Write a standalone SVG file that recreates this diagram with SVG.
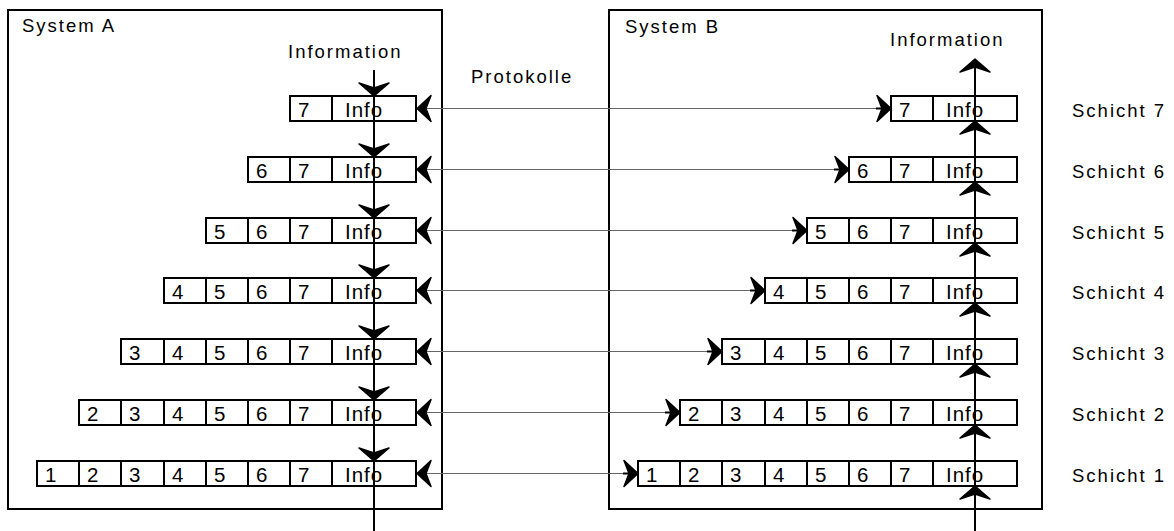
<svg xmlns="http://www.w3.org/2000/svg" xmlns:xlink="http://www.w3.org/1999/xlink" width="1174" height="531" viewBox="0 0 1174 531">
<style>
.frame{fill:none;stroke:#000;stroke-width:2}
.cell{fill:#fff;stroke:#000;stroke-width:2}
.lbl{font-family:"Liberation Sans",Arial,sans-serif;font-size:18.5px;letter-spacing:2px;fill:#000}
.ct{font-family:"Liberation Sans",Arial,sans-serif;font-size:20.5px;letter-spacing:1px;fill:#000}
.vline{stroke:#000;stroke-width:2;fill:none}
.proto{stroke:#666;stroke-width:1;fill:none}
.shaft{stroke:#000;stroke-width:2;fill:none}
.ah{fill:#000;stroke:#000;stroke-width:1.5;stroke-linejoin:round}
</style>
<defs>
<path id="ahV" class="ah" d="M0,0 L-15,-13 L0,-8 L15,-13 Z"/>
<path id="ahH" class="ah" d="M0,0 L14,-13 L9,0 L14,13 Z"/>
</defs>
<rect width="1174" height="531" fill="#fff"/>

<g id="systemA">
<rect class="frame" x="8" y="10" width="434" height="499"/>
<text class="lbl" x="22" y="32">System A</text>
<text class="lbl" x="288" y="58">Information</text>
</g>
<g id="systemB">
<rect class="frame" x="609" y="10" width="433" height="499"/>
<text class="lbl" x="625" y="33">System B</text>
<text class="lbl" x="890" y="46">Information</text>
</g>
<text id="protokolle" class="lbl" x="471" y="83">Protokolle</text>

<g id="connectors">
<line class="vline" x1="374" y1="70" x2="374" y2="531"/>
<line class="vline" x1="975" y1="60" x2="975" y2="531"/>
<line class="proto" x1="417" y1="108.5" x2="891" y2="108.5"/>
<line class="proto" x1="417" y1="169.5" x2="849" y2="169.5"/>
<line class="proto" x1="417" y1="230.5" x2="807" y2="230.5"/>
<line class="proto" x1="417" y1="290.5" x2="765" y2="290.5"/>
<line class="proto" x1="417" y1="351.5" x2="722" y2="351.5"/>
<line class="proto" x1="417" y1="412.5" x2="680" y2="412.5"/>
<line class="proto" x1="417" y1="473.5" x2="638" y2="473.5"/>
<line class="shaft" x1="876" y1="108.5" x2="891" y2="108.5"/>
<line class="shaft" x1="834" y1="169.5" x2="849" y2="169.5"/>
<line class="shaft" x1="792" y1="230.5" x2="807" y2="230.5"/>
<line class="shaft" x1="750" y1="290.5" x2="765" y2="290.5"/>
<line class="shaft" x1="707" y1="351.5" x2="722" y2="351.5"/>
<line class="shaft" x1="665" y1="412.5" x2="680" y2="412.5"/>
<line class="shaft" x1="623" y1="473.5" x2="638" y2="473.5"/>
</g>

<g id="rowA7">
<rect class="cell" x="290" y="96" width="42" height="25"/><text class="ct" x="298" y="117">7</text>
<rect class="cell" x="332" y="96" width="84" height="25"/><text class="ct" x="345" y="117">Info</text>
</g>
<g id="rowA6">
<rect class="cell" x="248" y="157" width="42" height="25"/><text class="ct" x="256" y="178">6</text>
<rect class="cell" x="290" y="157" width="42" height="25"/><text class="ct" x="298" y="178">7</text>
<rect class="cell" x="332" y="157" width="84" height="25"/><text class="ct" x="345" y="178">Info</text>
</g>
<g id="rowA5">
<rect class="cell" x="206" y="218" width="42" height="25"/><text class="ct" x="214" y="239">5</text>
<rect class="cell" x="248" y="218" width="42" height="25"/><text class="ct" x="256" y="239">6</text>
<rect class="cell" x="290" y="218" width="42" height="25"/><text class="ct" x="298" y="239">7</text>
<rect class="cell" x="332" y="218" width="84" height="25"/><text class="ct" x="345" y="239">Info</text>
</g>
<g id="rowA4">
<rect class="cell" x="164" y="278" width="42" height="25"/><text class="ct" x="172" y="299">4</text>
<rect class="cell" x="206" y="278" width="42" height="25"/><text class="ct" x="214" y="299">5</text>
<rect class="cell" x="248" y="278" width="42" height="25"/><text class="ct" x="256" y="299">6</text>
<rect class="cell" x="290" y="278" width="42" height="25"/><text class="ct" x="298" y="299">7</text>
<rect class="cell" x="332" y="278" width="84" height="25"/><text class="ct" x="345" y="299">Info</text>
</g>
<g id="rowA3">
<rect class="cell" x="121" y="339" width="43" height="25"/><text class="ct" x="129" y="360">3</text>
<rect class="cell" x="164" y="339" width="42" height="25"/><text class="ct" x="172" y="360">4</text>
<rect class="cell" x="206" y="339" width="42" height="25"/><text class="ct" x="214" y="360">5</text>
<rect class="cell" x="248" y="339" width="42" height="25"/><text class="ct" x="256" y="360">6</text>
<rect class="cell" x="290" y="339" width="42" height="25"/><text class="ct" x="298" y="360">7</text>
<rect class="cell" x="332" y="339" width="84" height="25"/><text class="ct" x="345" y="360">Info</text>
</g>
<g id="rowA2">
<rect class="cell" x="79" y="400" width="42" height="25"/><text class="ct" x="87" y="421">2</text>
<rect class="cell" x="121" y="400" width="43" height="25"/><text class="ct" x="129" y="421">3</text>
<rect class="cell" x="164" y="400" width="42" height="25"/><text class="ct" x="172" y="421">4</text>
<rect class="cell" x="206" y="400" width="42" height="25"/><text class="ct" x="214" y="421">5</text>
<rect class="cell" x="248" y="400" width="42" height="25"/><text class="ct" x="256" y="421">6</text>
<rect class="cell" x="290" y="400" width="42" height="25"/><text class="ct" x="298" y="421">7</text>
<rect class="cell" x="332" y="400" width="84" height="25"/><text class="ct" x="345" y="421">Info</text>
</g>
<g id="rowA1">
<rect class="cell" x="37" y="461" width="42" height="25"/><text class="ct" x="45" y="482">1</text>
<rect class="cell" x="79" y="461" width="42" height="25"/><text class="ct" x="87" y="482">2</text>
<rect class="cell" x="121" y="461" width="43" height="25"/><text class="ct" x="129" y="482">3</text>
<rect class="cell" x="164" y="461" width="42" height="25"/><text class="ct" x="172" y="482">4</text>
<rect class="cell" x="206" y="461" width="42" height="25"/><text class="ct" x="214" y="482">5</text>
<rect class="cell" x="248" y="461" width="42" height="25"/><text class="ct" x="256" y="482">6</text>
<rect class="cell" x="290" y="461" width="42" height="25"/><text class="ct" x="298" y="482">7</text>
<rect class="cell" x="332" y="461" width="84" height="25"/><text class="ct" x="345" y="482">Info</text>
</g>

<g id="rowB7" transform="translate(601,0)">
<rect class="cell" x="290" y="96" width="42" height="25"/><text class="ct" x="298" y="117">7</text>
<rect class="cell" x="332" y="96" width="84" height="25"/><text class="ct" x="345" y="117">Info</text>
</g>
<g id="rowB6" transform="translate(601,0)">
<rect class="cell" x="248" y="157" width="42" height="25"/><text class="ct" x="256" y="178">6</text>
<rect class="cell" x="290" y="157" width="42" height="25"/><text class="ct" x="298" y="178">7</text>
<rect class="cell" x="332" y="157" width="84" height="25"/><text class="ct" x="345" y="178">Info</text>
</g>
<g id="rowB5" transform="translate(601,0)">
<rect class="cell" x="206" y="218" width="42" height="25"/><text class="ct" x="214" y="239">5</text>
<rect class="cell" x="248" y="218" width="42" height="25"/><text class="ct" x="256" y="239">6</text>
<rect class="cell" x="290" y="218" width="42" height="25"/><text class="ct" x="298" y="239">7</text>
<rect class="cell" x="332" y="218" width="84" height="25"/><text class="ct" x="345" y="239">Info</text>
</g>
<g id="rowB4" transform="translate(601,0)">
<rect class="cell" x="164" y="278" width="42" height="25"/><text class="ct" x="172" y="299">4</text>
<rect class="cell" x="206" y="278" width="42" height="25"/><text class="ct" x="214" y="299">5</text>
<rect class="cell" x="248" y="278" width="42" height="25"/><text class="ct" x="256" y="299">6</text>
<rect class="cell" x="290" y="278" width="42" height="25"/><text class="ct" x="298" y="299">7</text>
<rect class="cell" x="332" y="278" width="84" height="25"/><text class="ct" x="345" y="299">Info</text>
</g>
<g id="rowB3" transform="translate(601,0)">
<rect class="cell" x="121" y="339" width="43" height="25"/><text class="ct" x="129" y="360">3</text>
<rect class="cell" x="164" y="339" width="42" height="25"/><text class="ct" x="172" y="360">4</text>
<rect class="cell" x="206" y="339" width="42" height="25"/><text class="ct" x="214" y="360">5</text>
<rect class="cell" x="248" y="339" width="42" height="25"/><text class="ct" x="256" y="360">6</text>
<rect class="cell" x="290" y="339" width="42" height="25"/><text class="ct" x="298" y="360">7</text>
<rect class="cell" x="332" y="339" width="84" height="25"/><text class="ct" x="345" y="360">Info</text>
</g>
<g id="rowB2" transform="translate(601,0)">
<rect class="cell" x="79" y="400" width="42" height="25"/><text class="ct" x="87" y="421">2</text>
<rect class="cell" x="121" y="400" width="43" height="25"/><text class="ct" x="129" y="421">3</text>
<rect class="cell" x="164" y="400" width="42" height="25"/><text class="ct" x="172" y="421">4</text>
<rect class="cell" x="206" y="400" width="42" height="25"/><text class="ct" x="214" y="421">5</text>
<rect class="cell" x="248" y="400" width="42" height="25"/><text class="ct" x="256" y="421">6</text>
<rect class="cell" x="290" y="400" width="42" height="25"/><text class="ct" x="298" y="421">7</text>
<rect class="cell" x="332" y="400" width="84" height="25"/><text class="ct" x="345" y="421">Info</text>
</g>
<g id="rowB1" transform="translate(601,0)">
<rect class="cell" x="37" y="461" width="42" height="25"/><text class="ct" x="45" y="482">1</text>
<rect class="cell" x="79" y="461" width="42" height="25"/><text class="ct" x="87" y="482">2</text>
<rect class="cell" x="121" y="461" width="43" height="25"/><text class="ct" x="129" y="482">3</text>
<rect class="cell" x="164" y="461" width="42" height="25"/><text class="ct" x="172" y="482">4</text>
<rect class="cell" x="206" y="461" width="42" height="25"/><text class="ct" x="214" y="482">5</text>
<rect class="cell" x="248" y="461" width="42" height="25"/><text class="ct" x="256" y="482">6</text>
<rect class="cell" x="290" y="461" width="42" height="25"/><text class="ct" x="298" y="482">7</text>
<rect class="cell" x="332" y="461" width="84" height="25"/><text class="ct" x="345" y="482">Info</text>
</g>

<g id="flowlines">
<line class="vline" x1="374" y1="96" x2="374" y2="121"/>
<line class="vline" x1="374" y1="157" x2="374" y2="182"/>
<line class="vline" x1="374" y1="218" x2="374" y2="243"/>
<line class="vline" x1="374" y1="278" x2="374" y2="303"/>
<line class="vline" x1="374" y1="339" x2="374" y2="364"/>
<line class="vline" x1="374" y1="400" x2="374" y2="425"/>
<line class="vline" x1="374" y1="461" x2="374" y2="486"/>
<line class="vline" x1="975" y1="96" x2="975" y2="121"/>
<line class="vline" x1="975" y1="157" x2="975" y2="182"/>
<line class="vline" x1="975" y1="218" x2="975" y2="243"/>
<line class="vline" x1="975" y1="278" x2="975" y2="303"/>
<line class="vline" x1="975" y1="339" x2="975" y2="364"/>
<line class="vline" x1="975" y1="400" x2="975" y2="425"/>
<line class="vline" x1="975" y1="461" x2="975" y2="486"/>
<use xlink:href="#ahV" transform="translate(374,96)"/>
<use xlink:href="#ahV" transform="translate(374,157)"/>
<use xlink:href="#ahV" transform="translate(374,218)"/>
<use xlink:href="#ahV" transform="translate(374,278)"/>
<use xlink:href="#ahV" transform="translate(374,339)"/>
<use xlink:href="#ahV" transform="translate(374,400)"/>
<use xlink:href="#ahV" transform="translate(374,461)"/>
<use xlink:href="#ahV" transform="translate(975,59) scale(1,-1)"/>
<use xlink:href="#ahV" transform="translate(975,121) scale(1,-1)"/>
<use xlink:href="#ahV" transform="translate(975,182) scale(1,-1)"/>
<use xlink:href="#ahV" transform="translate(975,243) scale(1,-1)"/>
<use xlink:href="#ahV" transform="translate(975,303) scale(1,-1)"/>
<use xlink:href="#ahV" transform="translate(975,364) scale(1,-1)"/>
<use xlink:href="#ahV" transform="translate(975,425) scale(1,-1)"/>
<use xlink:href="#ahV" transform="translate(975,486) scale(1,-1)"/>
<use xlink:href="#ahH" transform="translate(417,108.5)"/>
<use xlink:href="#ahH" transform="translate(417,169.5)"/>
<use xlink:href="#ahH" transform="translate(417,230.5)"/>
<use xlink:href="#ahH" transform="translate(417,290.5)"/>
<use xlink:href="#ahH" transform="translate(417,351.5)"/>
<use xlink:href="#ahH" transform="translate(417,412.5)"/>
<use xlink:href="#ahH" transform="translate(417,473.5)"/>
<use xlink:href="#ahH" transform="translate(891,108.5) scale(-1,1)"/>
<use xlink:href="#ahH" transform="translate(849,169.5) scale(-1,1)"/>
<use xlink:href="#ahH" transform="translate(807,230.5) scale(-1,1)"/>
<use xlink:href="#ahH" transform="translate(765,290.5) scale(-1,1)"/>
<use xlink:href="#ahH" transform="translate(722,351.5) scale(-1,1)"/>
<use xlink:href="#ahH" transform="translate(680,412.5) scale(-1,1)"/>
<use xlink:href="#ahH" transform="translate(638,473.5) scale(-1,1)"/>
</g>

<g id="layers">
<text class="lbl" x="1072" y="117">Schicht 7</text>
<text class="lbl" x="1072" y="178">Schicht 6</text>
<text class="lbl" x="1072" y="239">Schicht 5</text>
<text class="lbl" x="1072" y="299">Schicht 4</text>
<text class="lbl" x="1072" y="360">Schicht 3</text>
<text class="lbl" x="1072" y="421">Schicht 2</text>
<text class="lbl" x="1072" y="482">Schicht 1</text>
</g>
</svg>
